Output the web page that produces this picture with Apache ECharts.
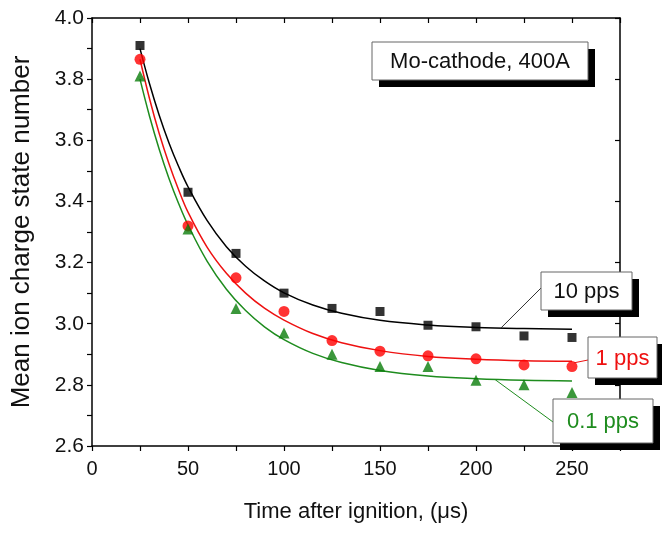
<!DOCTYPE html>
<html>
<head>
<meta charset="utf-8">
<script src="https://cdn.jsdelivr.net/npm/echarts@6/dist/echarts.min.js"></script>
<style>
html,body{margin:0;padding:0;background:#fff;}
#chart{width:662px;height:533px;}
</style>
</head>
<body>
<div id="chart"></div>
<script>
// Measured points
const times = [25, 50, 75, 100, 125, 150, 175, 200, 225, 250];
const pps10 = [3.91, 3.43, 3.23, 3.10, 3.05, 3.04, 2.995, 2.99, 2.96, 2.955];
const pps1  = [3.865, 3.32, 3.15, 3.04, 2.945, 2.91, 2.895, 2.885, 2.865, 2.86];
const pps01 = [3.81, 3.31, 3.05, 2.97, 2.90, 2.86, 2.86, 2.815, 2.80, 2.775];

// Fitted curves
const fitX  = [25, 30, 35, 40, 45, 50, 60, 70, 80, 90, 100, 115, 130, 150, 175, 200, 225, 250];
const fit10 = [3.900, 3.784, 3.682, 3.593, 3.516, 3.448, 3.337, 3.252, 3.188, 3.139, 3.101, 3.061, 3.034, 3.011, 2.996, 2.988, 2.984, 2.982];
const fit1  = [3.865, 3.735, 3.622, 3.525, 3.440, 3.365, 3.250, 3.165, 3.100, 3.050, 3.012, 2.968, 2.938, 2.912, 2.893, 2.884, 2.879, 2.877];
const fit01 = [3.800, 3.678, 3.571, 3.477, 3.395, 3.323, 3.204, 3.113, 3.043, 2.989, 2.948, 2.903, 2.873, 2.847, 2.829, 2.820, 2.815, 2.813];

const FONT = '"Liberation Sans", Arial, sans-serif';
const pairs = (xs, ys) => xs.map((x, i) => [x, ys[i]]);

const chart = echarts.init(document.getElementById('chart'), null, {renderer: 'canvas'});

const axisLineStyle = {color: '#000', width: 1.5};

chart.setOption({
  animation: false,
  backgroundColor: '#fff',
  grid: {left: 92, top: 18, right: 42, bottom: 87, containLabel: false},
  xAxis: [{
    type: 'value', min: 0, max: 275, interval: 25,
    name: 'Time after ignition, (\u03bcs)', nameLocation: 'middle', nameGap: 55,
    nameTextStyle: {fontFamily: FONT, fontSize: 22, color: '#111'},
    axisLine: {show: true, onZero: false, lineStyle: axisLineStyle},
    axisTick: {show: true, inside: false, length: 5, lineStyle: {color: '#000', width: 1.2}},
    axisLabel: {fontFamily: FONT, fontSize: 20, color: '#111', margin: 13,
      formatter: v => (Math.round(v) % 50 === 0 && v <= 250) ? String(Math.round(v)) : ''},
    splitLine: {show: false}
  }, {
    type: 'value', min: 0, max: 275, interval: 25, position: 'top',
    axisLine: {show: true, onZero: false, lineStyle: axisLineStyle},
    axisTick: {show: true, inside: true, length: 5, lineStyle: {color: '#000', width: 1.2}},
    axisLabel: {show: false}, splitLine: {show: false}
  }],
  yAxis: [{
    type: 'value', min: 2.6, max: 4.0, interval: 0.1,
    name: 'Mean ion charge state number', nameLocation: 'middle', nameGap: 57,
    nameTextStyle: {fontFamily: FONT, fontSize: 26, color: '#111'},
    axisLine: {show: true, onZero: false, lineStyle: axisLineStyle},
    axisTick: {show: true, inside: false, length: 5, lineStyle: {color: '#000', width: 1.2}},
    axisLabel: {fontFamily: FONT, fontSize: 21, color: '#111', margin: 8,
      formatter: v => (Math.round(v * 10) % 2 === 0) ? (Math.round(v * 10) / 10).toFixed(1) : ''},
    splitLine: {show: false}
  }, {
    type: 'value', min: 2.6, max: 4.0, interval: 0.2, position: 'right',
    axisLine: {show: true, onZero: false, lineStyle: axisLineStyle},
    axisTick: {show: true, inside: true, length: 5, lineStyle: {color: '#000', width: 1.2}},
    axisLabel: {show: false}, splitLine: {show: false}
  }],
  series: [
    {type: 'line', data: pairs(fitX, fit10), smooth: 0.4, showSymbol: false, symbol: 'none',
      lineStyle: {color: '#000', width: 1.5}, z: 2},
    {type: 'line', data: pairs(fitX, fit1), smooth: 0.4, showSymbol: false, symbol: 'none',
      lineStyle: {color: '#ee1111', width: 1.5}, z: 2},
    {type: 'line', data: pairs(fitX, fit01), smooth: 0.4, showSymbol: false, symbol: 'none',
      lineStyle: {color: '#1e8c1e', width: 1.5}, z: 2},
    {type: 'scatter', data: pairs(times, pps10), symbol: 'rect', symbolSize: 9,
      itemStyle: {color: '#000'}, z: 3},
    {type: 'scatter', data: pairs(times, pps1), symbol: 'circle', symbolSize: 11,
      itemStyle: {color: '#ff0000'}, z: 3},
    {type: 'scatter', data: pairs(times, pps01), symbol: 'triangle', symbolSize: 11,
      itemStyle: {color: '#0a7d0a'}, z: 3}
  ]
});

// Annotations
function box(x, y, w, h, text, color) {
  return [
    {type: 'rect', shape: {x: x + 7, y: y + 7, width: w, height: h}, style: {fill: '#000'}, z: 20},
    {type: 'rect', shape: {x: x, y: y, width: w, height: h}, style: {fill: '#fff', stroke: '#666', lineWidth: 1}, z: 21},
    {type: 'text', x: x + w / 2, y: y + h / 2 + 1, style: {text: text, fill: color, fontSize: 22, fontFamily: FONT,
      align: 'center', verticalAlign: 'middle'}, z: 22}
  ];
}
function leader(from, dataPt, color) {
  const p = chart.convertToPixel({xAxisIndex: 0, yAxisIndex: 0}, dataPt);
  return {type: 'line', shape: {x1: from[0], y1: from[1], x2: p[0], y2: p[1]},
    style: {stroke: color, lineWidth: 1}, z: 15};
}
const g = [];
g.push(leader([541, 288], [213, 2.986], '#333'));
g.push(leader([588, 360], [251, 2.872], '#ee1111'));
g.push(leader([553, 422], [210, 2.817], '#1e8c1e'));
g.push(...box(372, 42, 216, 38, 'Mo-cathode, 400A', '#111'));
g.push(...box(541, 272, 91, 38, '10 pps', '#111'));
g.push(...box(588, 337, 69, 41, '1 pps', '#ee1111'));
g.push(...box(553, 399, 100, 44, '0.1 pps', '#1e8c1e'));
chart.setOption({graphic: g});
</script>
</body>
</html>
